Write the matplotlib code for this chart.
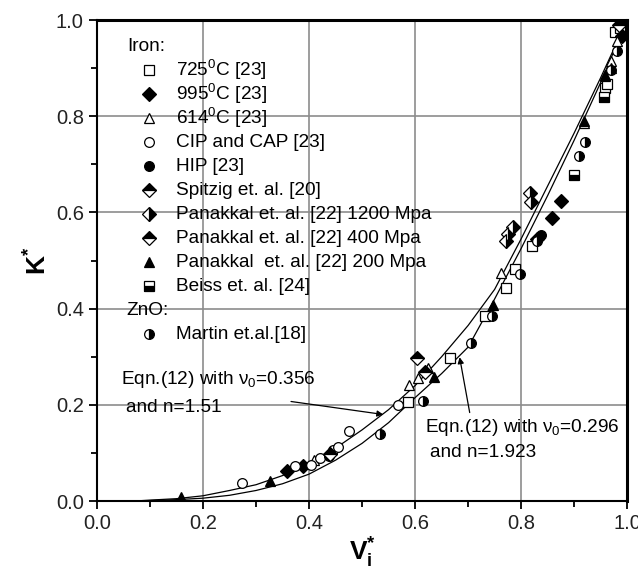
import matplotlib
matplotlib.use("Agg")
import matplotlib.pyplot as plt

plt.rcParams['font.family'] = ['Liberation Sans', 'DejaVu Sans']
plt.rcParams['mathtext.fontset'] = 'custom'
plt.rcParams['mathtext.rm'] = 'Liberation Sans'
plt.rcParams['mathtext.bf'] = 'Liberation Sans:bold'
plt.rcParams['mathtext.it'] = 'Liberation Sans:italic'

# model curves
curve_x = [0.07, 0.10, 0.15, 0.20, 0.25, 0.30, 0.35, 0.40, 0.45, 0.50,
           0.55, 0.60, 0.65, 0.70, 0.75, 0.80, 0.85, 0.90, 0.95, 1.00]
curve_356 = [0.000, 0.002, 0.005, 0.011, 0.022, 0.034, 0.053, 0.079, 0.110, 0.148,
             0.190, 0.240, 0.300, 0.365, 0.440, 0.545, 0.655, 0.765, 0.880, 1.000]
curve_296 = [0.000, 0.001, 0.003, 0.006, 0.012, 0.022, 0.036, 0.056, 0.085, 0.120,
             0.163, 0.215, 0.265, 0.320, 0.420, 0.525, 0.635, 0.750, 0.870, 1.000]

# iron
t725_x = [0.587, 0.665, 0.731, 0.772, 0.788, 0.820, 0.959, 0.962, 0.977, 0.987]
t725_y = [0.205, 0.298, 0.385, 0.443, 0.483, 0.530, 0.858, 0.868, 0.975, 0.983]
t995_x = [0.358, 0.389, 0.830, 0.858, 0.875, 0.990, 1.000]
t995_y = [0.062, 0.073, 0.545, 0.589, 0.623, 0.967, 1.000]
t614_x = [0.410, 0.589, 0.606, 0.625, 0.762, 0.918, 0.959, 0.970, 0.981]
t614_y = [0.085, 0.242, 0.255, 0.277, 0.474, 0.785, 0.883, 0.914, 0.956]
cip_x = [0.274, 0.374, 0.403, 0.420, 0.445, 0.455, 0.475, 0.567]
cip_y = [0.037, 0.073, 0.075, 0.090, 0.107, 0.113, 0.145, 0.199]
hip_x = [0.437, 0.837]
hip_y = [0.093, 0.553]
spitzig_x = [0.440, 0.618, 0.985]
spitzig_y = [0.098, 0.268, 0.990]
pan1200_x = [0.784, 0.776, 0.772, 0.817, 0.818]
pan1200_y = [0.570, 0.555, 0.541, 0.641, 0.622]
pan400_x = [0.603]
pan400_y = [0.298]
pan200_x = [0.159, 0.326, 0.636, 0.747, 0.918, 0.959, 0.970]
pan200_y = [0.009, 0.042, 0.258, 0.408, 0.790, 0.885, 0.900]
beiss_x = [0.900, 0.956]
beiss_y = [0.678, 0.840]
# ZnO
martin_x = [0.533, 0.615, 0.706, 0.745, 0.797, 0.830, 0.909, 0.920, 0.970, 0.981]
martin_y = [0.140, 0.208, 0.328, 0.384, 0.472, 0.540, 0.718, 0.747, 0.896, 0.935]

series = [
    ('725$^0$C [23]', t725_x, t725_y, dict(marker='s', mfc='white', mec='black')),
    ('995$^0$C [23]', t995_x, t995_y, dict(marker='D', mfc='black', mec='black')),
    ('614$^0$C [23]', t614_x, t614_y, dict(marker='^', mfc='white', mec='black')),
    ('CIP and CAP [23]', cip_x, cip_y, dict(marker='o', mfc='white', mec='black')),
    ('HIP [23]', hip_x, hip_y, dict(marker='o', mfc='black', mec='black')),
    ('Spitzig et. al. [20]', spitzig_x, spitzig_y,
     dict(marker='D', fillstyle='top', mfc='black', mfcalt='white', mec='black')),
    ('Panakkal et. al. [22] 1200 Mpa', pan1200_x, pan1200_y,
     dict(marker='D', fillstyle='right', mfc='black', mfcalt='white', mec='black')),
    ('Panakkal et. al. [22] 400 Mpa', pan400_x, pan400_y,
     dict(marker='D', fillstyle='top', mfc='black', mfcalt='white', mec='black')),
    ('Panakkal  et. al. [22] 200 Mpa', pan200_x, pan200_y,
     dict(marker='^', mfc='black', mec='black')),
    ('Beiss et. al. [24]', beiss_x, beiss_y,
     dict(marker='s', fillstyle='bottom', mfc='black', mfcalt='white', mec='black')),
    ('Martin et.al.[18]', martin_x, martin_y,
     dict(marker='o', fillstyle='right', mfc='black', mfcalt='white', mec='black')),
]

fig = plt.figure(figsize=(6.38, 5.72), dpi=100)
ax = fig.add_axes([0.152, 0.124, 0.831, 0.841])

ax.plot(curve_x, curve_356, color='black', lw=0.9, zorder=3)
ax.plot(curve_x, curve_296, color='black', lw=0.9, zorder=3)

for label, xs, ys, st in series:
    ax.plot(xs, ys, ls='none', ms=7, mew=0.9, zorder=4, **st)

ax.set_xlim(0, 1)
ax.set_ylim(0, 1)
ax.set_xticks([0, 0.2, 0.4, 0.6, 0.8, 1.0])
ax.set_yticks([0, 0.2, 0.4, 0.6, 0.8, 1.0])
ax.set_xticks([0.1, 0.3, 0.5, 0.7, 0.9], minor=True)
ax.set_yticks([0.1, 0.3, 0.5, 0.7, 0.9], minor=True)
ax.xaxis.set_major_formatter(plt.FormatStrFormatter('%.1f'))
ax.yaxis.set_major_formatter(plt.FormatStrFormatter('%.1f'))
ax.tick_params(which='major', direction='out', length=6, width=1.3,
               labelsize=14.5, labelcolor='#222222')
ax.tick_params(which='minor', direction='out', length=4, width=1.3)
ax.grid(True, which='major', color='#8c8c8c', lw=1.2)
ax.set_axisbelow(True)
for s in ['left', 'bottom']:
    ax.spines[s].set_linewidth(1.5)
for s in ['top', 'right']:
    ax.spines[s].set_linewidth(2.2)

ax.set_xlabel(r'$\mathbf{V}_{\mathbf{i}}^{\mathbf{*}}$', fontsize=19, labelpad=2)
ax.set_ylabel(r'$\mathbf{K}^{\mathbf{*}}$', fontsize=19, labelpad=3)

# legend drawn row by row
row_h = 24 / 481
y0 = 1 - 26 / 481
ax.text(0.058, y0, 'Iron:', transform=ax.transAxes, fontsize=13.7, va='center')
rows = series[:10] + [None] + series[10:]
for i, item in enumerate(rows, start=1):
    yy = y0 - i * row_h
    if item is None:
        ax.text(0.056, yy, 'ZnO:', transform=ax.transAxes, fontsize=13.7, va='center')
        continue
    label, xs, ys, st = item
    ax.plot([0.098], [yy], transform=ax.transAxes, ls='none', ms=7, mew=0.9,
            clip_on=False, zorder=5, **st)
    ax.text(0.149, yy, label, transform=ax.transAxes, fontsize=13.7, va='center')

nu = r'$\mathrm{\nu}_0$'
ax.text(0.045, 0.253, 'Eqn.(12) with ' + nu + '=0.356', fontsize=13.7, va='center')
ax.text(0.055, 0.194, 'and n=1.51', fontsize=13.7, va='center')
ax.annotate('', xy=(0.540, 0.180), xytext=(0.366, 0.207),
            arrowprops=dict(arrowstyle='-|>', color='black', lw=0.9,
                            mutation_scale=9, shrinkA=0, shrinkB=0))
ax.text(0.619, 0.152, 'Eqn.(12) with ' + nu + '=0.296', fontsize=13.7, va='center')
ax.text(0.629, 0.100, 'and n=1.923', fontsize=13.7, va='center')
ax.annotate('', xy=(0.684, 0.299), xytext=(0.703, 0.184),
            arrowprops=dict(arrowstyle='-|>', color='black', lw=0.9,
                            mutation_scale=9, shrinkA=0, shrinkB=0))

fig.savefig('out.png', dpi=100)
